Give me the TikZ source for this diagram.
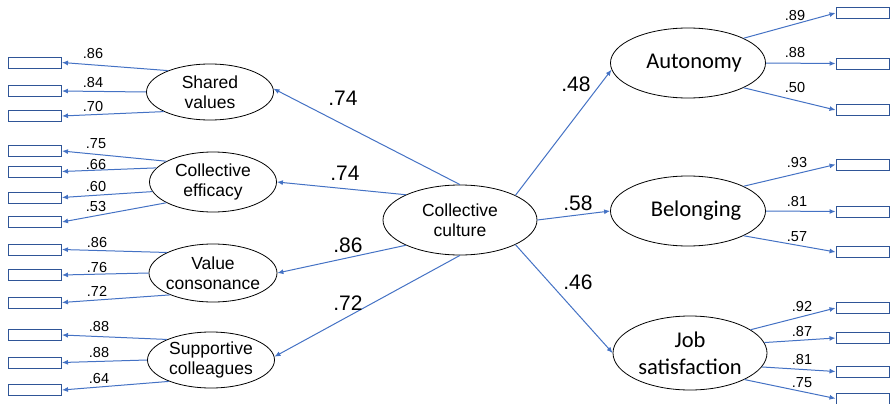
\documentclass[tikz,border=0pt]{standalone}
\usepackage{fontspec}
\setmainfont{Liberation Sans}
\newfontfamily\calib{Carlito}
\usetikzlibrary{shapes.geometric,arrows.meta}
\definecolor{lnblue}{HTML}{4472C4}
\definecolor{bxblue}{HTML}{2F5597}
\begin{document}
\begin{tikzpicture}[x=1pt,y=-1pt,
  lat/.style={ellipse,draw,line width=0.8pt,inner sep=0pt,align=center,font=\fontsize{17.5}{20}\selectfont},
  latc/.style={lat,font=\calib\fontsize{22.5}{27}\selectfont},
  ind/.style={rectangle,draw=bxblue,line width=0.95pt,minimum width=53pt,minimum height=11pt,inner sep=0pt},
  con/.style={draw=lnblue,line width=1pt,-{Latex[length=6pt,width=5pt]}},
  sl/.style={font=\fontsize{14.5}{16}\selectfont,inner sep=0pt},
  bl/.style={font=\fontsize{21}{24}\selectfont,inner sep=0pt}]
\useasboundingbox (0,0) rectangle (891,404);

% latent variables
\node[lat,minimum width=154pt,minimum height=70pt] (cc) at (460,220) {Collective\\culture};
\node[lat,minimum width=127pt,minimum height=56pt] (sv) at (210,92) {Shared\\values};
\node[lat,minimum width=127pt,minimum height=60pt] (ce) at (213,182) {Collective\\efficacy};
\node[lat,inner xsep=-4pt,minimum width=128pt,minimum height=58pt] (vc) at (213,273) {Value\\consonance};
\node[lat,minimum width=127pt,minimum height=56pt] (sc) at (211,360) {Supportive\\colleagues};
\node[latc,minimum width=155pt,minimum height=70pt] (au) at (688,63) {\hspace*{12pt}Autonomy};
\node[latc,minimum width=155pt,minimum height=70pt] (be) at (688,211) {\hspace*{16pt}Belonging};
\node[latc,minimum width=154pt,minimum height=74pt] (js) at (690,353) {Job\\satisfaction};

% left indicators
\foreach \n/\y in {1/62.5,2/91,3/116,4/151,5/171.5,6/197.5,7/222,8/249.5,9/275,10/302.5,11/335,12/362.5,13/390}
  \node[ind] (b\n) at (35,\y) {};
% right indicators
\foreach \n/\y in {1/13,2/63.5,3/110,4/164.5,5/211.5,6/252,7/308,8/338,9/371.5,10/398.5}
  \node[ind] (r\n) at (862.5,\y) {};

% loadings left
\draw[con] (sv.153) -- (b1.east);
\draw[con] (sv.180) -- (b2.east);
\draw[con] (sv.203) -- (b3.east);
\draw[con] (ce.156) -- (b4.east);
\draw[con] (ce.166) -- (b5.east);
\draw[con] (ce.189) -- (b6.east);
\draw[con] (ce.204.5) -- (b7.east);
\draw[con] (vc.156) -- (b8.east);
\draw[con] (vc.180) -- (b9.east);
\draw[con] (vc.207) -- (b10.east);
\draw[con] (sc.155) -- (b11.east);
\draw[con] (sc.180) -- (b12.east);
\draw[con] (sc.207) -- (b13.east);

% loadings right
\draw[con] (au.24) -- (r1.west);
\draw[con] (au.0) -- (r2.west);
\draw[con] (au.-24) -- (r3.west);
\draw[con] (be.24) -- (r4.west);
\draw[con] (be.0) -- (r5.west);
\draw[con] (be.-24) -- (r6.west);
\draw[con] (js.21) -- (r7.west);
\draw[con] (js.8) -- (r8.west);
\draw[con] (js.-11) -- (r9.west);
\draw[con] (js.-26) -- (r10.west);

% structural paths
\draw[con] (cc.90) -- (sv.3);
\draw[con] (cc.155) -- (ce.0);
\draw[con] (cc.205) -- (vc.0);
\draw[con] (cc.270) -- (sc.3);
\draw[con] (cc.24) -- (au.185);
\draw[con] (cc.0) -- (be.180);
\draw[con] (cc.-24) -- (js.180);

% small labels left
\node[sl] (l1) at (93,54) {.86};
\node[sl] (l2) at (93,83) {.84};
\node[sl] (l3) at (93,107) {.70};
\node[sl] (l4) at (96,144) {.75};
\node[sl] (l5) at (96,165) {.66};
\node[sl] (l6) at (96,187) {.60};
\node[sl] (l7) at (96,207) {.53};
\node[sl] (l8) at (97,243) {.86};
\node[sl] (l9) at (97,268) {.76};
\node[sl] (l10) at (97,291) {.72};
\node[sl] (l11) at (99,327) {.88};
\node[sl] (l12) at (99,353) {.88};
\node[sl] (l13) at (99,379) {.64};
% small labels right
\node[sl] (m1) at (795,16) {.89};
\node[sl] (m2) at (795,53) {.88};
\node[sl] (m3) at (795,88) {.50};
\node[sl] (m4) at (797,163) {.93};
\node[sl] (m5) at (797,202) {.81};
\node[sl] (m6) at (797,237) {.57};
\node[sl] (m7) at (802,307) {.92};
\node[sl] (m8) at (802,332) {.87};
\node[sl] (m9) at (802,360) {.81};
\node[sl] (m10) at (802,383) {.75};
% big labels
\node[bl] (s1) at (343,98) {.74};
\node[bl] (s2) at (345,173) {.74};
\node[bl] (s3) at (348,245) {.86};
\node[bl] (s4) at (348,303) {.72};
\node[bl] (s5) at (576,84) {.48};
\node[bl] (s6) at (578,203) {.58};
\node[bl] (s7) at (578,282) {.46};
\end{tikzpicture}
\end{document}
